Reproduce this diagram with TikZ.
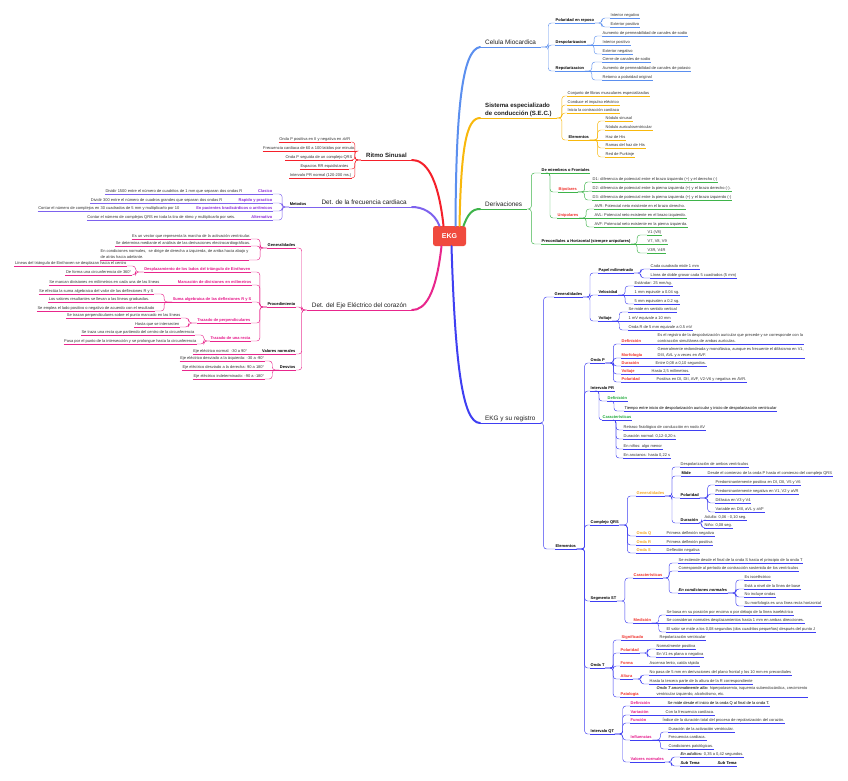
\documentclass[tikz,border=0pt]{standalone}
\usepackage{fontspec}
\setmainfont{Liberation Sans}
\usetikzlibrary{calc}
\definecolor{cBlue}{HTML}{5B8FEF}
\definecolor{cYel}{HTML}{F8B80C}
\definecolor{cGrn}{HTML}{3EB44A}
\definecolor{cRed}{HTML}{F5202A}
\definecolor{cPur}{HTML}{7D62EE}
\definecolor{cPink}{HTML}{E8268C}
\definecolor{cDB}{HTML}{3F3FF2}
\definecolor{ekgred}{HTML}{F04A3E}
\definecolor{txtc}{HTML}{333333}
\definecolor{lRed}{HTML}{F0302A}
\definecolor{lGrn}{HTML}{1FAA3A}
\definecolor{lOra}{HTML}{F5A623}
\definecolor{lPink}{HTML}{E6178A}
\definecolor{lPur}{HTML}{8E2BD8}
\colorlet{brc}{black}
\newcommand{\fsm}{\fontsize{4}{5.6}\selectfont}
\newcommand{\fsmb}{\fontsize{4}{5.6}\selectfont\bfseries}
\newcommand{\ftop}{\fontsize{6.4}{7.8}\selectfont}
\newcommand{\ftopb}{\fontsize{6.1}{7.8}\selectfont\bfseries}
\newcommand{\dstr}{\rule[-0.9pt]{0pt}{1pt}}
\newcommand{\cR}[3]{\draw[conn] (#1.south east) -- ++(#3,0) |- (#2.south west);}
\newcommand{\cL}[3]{\draw[conn] (#1.south west) -- ++(-#3,0) |- (#2.south east);}
\newcommand{\cP}[3]{\draw[conn] (#1) -- ++(#3,0) |- (#2.south west);}
\newcommand{\sR}[2]{\draw[conn] (#1.south east) -- (#2.south west);}
\newcommand{\sL}[2]{\draw[conn] (#1.south west) -- (#2.south east);}
\newcommand{\uR}[2]{\draw[ul] (#1.south west) -- (#2.south east);}
\tikzset{
 ul/.style={draw=brc, line width=0.45pt},
 conn/.style={draw=brc, line width=0.45pt, rounded corners=3pt},
 nb/.style={inner xsep=0.5pt, inner ysep=0.6pt, text depth=0.9pt, font=\fsm, text=txtc},
 R/.style={nb, anchor=south west, append after command={(\tikzlastnode.south west) edge[ul] (\tikzlastnode.south east)}},
 Lf/.style={nb, anchor=south east, append after command={(\tikzlastnode.south west) edge[ul] (\tikzlastnode.south east)}},
 Rn/.style={nb, anchor=south west},
 Ln/.style={nb, anchor=south east},
 B/.style={font=\fsmb, text=black},
 ml/.style={align=left, text depth=},
 TR/.style={inner xsep=5pt, inner ysep=1.2pt, text depth=1.6pt, font=\ftop, text=black!88, anchor=south west, append after command={(\tikzlastnode.south west) edge[draw=brc, line width=1pt] (\tikzlastnode.south east)}},
 TL/.style={inner xsep=5pt, inner ysep=1.2pt, text depth=1.6pt, font=\ftop, text=black!88, anchor=south east, append after command={(\tikzlastnode.south west) edge[draw=brc, line width=1pt] (\tikzlastnode.south east)}},
 main/.style={line width=2pt, line cap=round}
}
\begin{document}
\begin{tikzpicture}[x=1pt,y=-1pt]
\useasboundingbox (0,0) rectangle (848,780);
\fill[white] (0,0) rectangle (848,780);

\node[fill=ekgred, rounded corners=2.5pt, text=white, font=\fontsize{7}{8}\selectfont\bfseries, minimum width=33pt, minimum height=20pt, inner sep=0pt] (ekg) at (449.5,236) {EKG};

% ===== Celula Miocardica
\begin{scope}
\colorlet{brc}{cBlue}
\node[TR] (cel) at (480,47) {Celula Miocardica};
\node[R,B] (cel1) at (555,23) {Polaridad en reposo};
\node[R,B] (cel2) at (555,45) {Despolarizacion};
\node[R,B] (cel3) at (555,71) {Repolarizacion};
\cR{cel}{cel1}{7}\cR{cel}{cel2}{7}\cR{cel}{cel3}{7}
\node[R] (cel11) at (610,18) {Interior negativo};
\node[R] (cel12) at (610,27) {Exterior positivo};
\cR{cel1}{cel11}{7}\cR{cel1}{cel12}{7}
\node[R] (cel21) at (602,36) {Aumento de permeabilidad de canales de sodio};
\node[R] (cel22) at (602,45) {Interior positivo};
\node[R] (cel23) at (602,54) {Exterior negativo};
\cR{cel2}{cel21}{7}\sR{cel2}{cel22}\cR{cel2}{cel23}{7}
\node[R] (cel31) at (602,62) {Cierre de canales de sodio};
\node[R] (cel32) at (602,71) {Aumento de permeabilidad de canales de potasio};
\node[R] (cel33) at (602,80) {Retorno a polaridad original};
\cR{cel3}{cel31}{7}\sR{cel3}{cel32}\cR{cel3}{cel33}{7}
\draw[main,brc] ([xshift=6pt]ekg.north) .. controls (456,110) and (462,50) .. (cel.south west);
\end{scope}

% ===== SEC
\begin{scope}
\colorlet{brc}{cYel}
\node[TR, font=\ftopb, align=left, text depth=] (sec) at (480,118) {Sistema especializado\\de conducción (S.E.C.)\dstr};
\node[R] (sec1) at (567,96) {Conjunto de fibras musculares especializadas};
\node[R] (sec2) at (567,105) {Conduce el impulso eléctrico};
\node[R] (sec3) at (567,113) {Inicia la contracción cardiaca};
\node[R,B] (sec4) at (568,140) {Elementos};
\cR{sec}{sec1}{5}\cR{sec}{sec2}{5}\cR{sec}{sec3}{5}\cR{sec}{sec4}{5}
\node[R] (sec41) at (605,121) {Nódulo sinusal};
\node[R] (sec42) at (605,130) {Nódulo auriculoventricular};
\node[R] (sec43) at (605,140) {Haz de His};
\node[R] (sec44) at (605,148) {Ramas del haz de His};
\node[R] (sec45) at (605,157) {Red de Purkinje};
\cR{sec4}{sec41}{8}\cR{sec4}{sec42}{8}\sR{sec4}{sec43}\cR{sec4}{sec44}{8}\cR{sec4}{sec45}{8}
\draw[main,brc] ([xshift=10pt]ekg.north) .. controls (461,150) and (466,118) .. (sec.south west);
\end{scope}

% ===== Derivaciones
\begin{scope}
\colorlet{brc}{cGrn}
\node[TR] (der) at (480,209) {Derivaciones};
\node[R,B] (der1) at (541,173) {De miembros o Frontales};
\node[R,B] (der2) at (541,244) {Precordiales u Horizontal (siempre unipolares)};
\cR{der}{der1}{4}\cR{der}{der2}{4}
\node[R,font=\fsmb,text=lRed] (der11) at (558,192) {Bipolares};
\node[R,font=\fsmb,text=lRed] (der12) at (557,218) {Unipolares};
\cP{548,173}{der11}{2}\cP{548,173}{der12}{2}
\node[R] (der111) at (592,182) {D1: diferencia de potencial entre el brazo izquierdo (+) y el derecho (-)};
\node[R] (der112) at (592,191) {D2: diferencia de potencial entre la pierna izquierda (+) y el brazo derecho (-).};
\node[R] (der113) at (592,200) {D3: diferencia de potencial entre la pierna izquierda (+) y el brazo izquierdo (-)};
\cR{der11}{der111}{7}\sR{der11}{der112}\cR{der11}{der113}{7}
\node[R] (der121) at (594,209) {AVR: Potencial neto existente en el brazo derecho.};
\node[R] (der122) at (594,218) {AVL: Potencial neto existente en el brazo izquierdo.};
\node[R] (der123) at (594,227) {AVF: Potencial neto existente en la pierna izquierda.};
\cR{der12}{der121}{7}\sR{der12}{der122}\cR{der12}{der123}{7}
\node[R] (der21) at (647,235) {V1 (V8)};
\node[R] (der22) at (647,244) {V7, V8, V9};
\node[R] (der23) at (647,253) {V3R, V4R};
\cR{der2}{der21}{6}\sR{der2}{der22}\cR{der2}{der23}{6}
\draw[main,brc] ([xshift=14pt]ekg.north) .. controls (468,214) and (472,209) .. (der.south west);
\end{scope}

% ===== Ritmo Sinusal
\begin{scope}
\colorlet{brc}{cRed}
\node[TL, font=\ftopb] (rs) at (412,160) {Ritmo Sinusal};
\node[Lf] (rs1) at (351,142) {Onda P positiva en II y negativa en aVR};
\node[Lf] (rs2) at (356,151) {Frecuencia cardiaca de 60 a 100 latidos por minuto.};
\node[Lf] (rs3) at (353,160) {Onda P seguida de un complejo QRS};
\node[Lf] (rs4) at (349,169) {Espacios RR equidistantes};
\node[Lf] (rs5) at (352,178) {Intervalo PR normal (120-200 ms.)};
\cL{rs}{rs1}{6}\cL{rs}{rs2}{6}\cL{rs}{rs3}{6}\cL{rs}{rs4}{6}\cL{rs}{rs5}{6}
\draw[main,brc] ([xshift=-6pt]ekg.north) .. controls (438,175) and (425,160) .. (rs.south east);
\end{scope}

% ===== Frecuencia
\begin{scope}
\colorlet{brc}{cPur}
\node[TL] (fc) at (412,207) {Det. de la frecuencia cardiaca};
\node[Lf,B] (fm) at (307,207) {Metodos};
\sL{fc}{fm}
\node[Ln,font=\fsmb,text=lPur] (fc1) at (273,194) {Clasico};
\node[Ln] (fc1d) at (243,194) {Dividir 1500 entre el número de cuadritos de 1 mm que separan dos ondas R};
\node[Ln,font=\fsmb,text=lPur] (fc2) at (273,203) {Rapido y practico};
\node[Ln] (fc2d) at (223,203) {Dividir 300 entre el número de cuadros grandes que separan dos ondas R};
\node[Ln,font=\fsmb,text=lPur] (fc3) at (273,211) {En pacientes bradicárdicos o arrítmicos};
\node[Ln] (fc3d) at (180,211) {Contar el número de complejos en 30 cuadrados de 5 mm y multiplicarlo por 10};
\node[Ln,font=\fsmb,text=lPur] (fc4) at (273,220) {Alternativo};
\node[Ln] (fc4d) at (236,220) {Contar el número de complejos QRS en toda la tira de ritmo y multiplicarlo por seis.};
\uR{fc1d}{fc1}\uR{fc2d}{fc2}\uR{fc3d}{fc3}\uR{fc4d}{fc4}
\cL{fm}{fc1}{7}\cL{fm}{fc2}{7}\cL{fm}{fc3}{7}\cL{fm}{fc4}{7}
\draw[main,brc] ([xshift=-10pt]ekg.north) .. controls (434,212) and (422,207) .. (fc.south east);
\end{scope}

% ===== Eje
\begin{scope}
\colorlet{brc}{cPink}
\node[TL] (eje) at (412,310) {Det. del Eje Eléctrico del corazón};
\node[Lf,B] (ej1) at (296,248) {Generalidades};
\node[Lf,B] (ej2) at (296,307) {Procedimiento};
\node[Ln,B] (ej3) at (296,354) {Valores normales};
\node[Ln] (ej3d) at (248,354) {Eje eléctrico normal: -30 a 90°};
\uR{ej3d}{ej3}
\node[Lf,B] (ej4) at (296,370) {Desvios};
\cL{eje}{ej1}{5}\cL{eje}{ej2}{5}\cL{eje}{ej3}{5}\cL{eje}{ej4}{5}
\node[Lf] (ej11) at (251,239) {Es un vector que representa la marcha de la activación ventricular.};
\node[Lf] (ej12) at (251,246) {Se determina mediante el análisis de las derivaciones electrocardiográficas.};
\node[Lf,ml] (ej13) at (249,260) {En condiciones normales,\ \ se dirige de derecha a izquierda, de arriba hacia abajo y\\de atrás hacia adelante.\dstr};
\cL{ej1}{ej11}{7}\cL{ej1}{ej12}{7}\cL{ej1}{ej13}{7}
\node[Lf,font=\fsmb,text=lPink] (ej21) at (251,272) {Desplazamiento de los lados del triángulo de Einthoven};
\node[Ln,font=\fsmb,text=lPink] (ej22) at (252,285) {Marcación de divisiones en milímetros};
\node[Ln] (ej22d) at (160,285) {Se marcan divisiones en milímetros en cada una de las líneas};
\uR{ej22d}{ej22}
\node[Lf,font=\fsmb,text=lPink] (ej23) at (252,302) {Suma algebraica de las deflexiones R y S};
\node[Lf,font=\fsmb,text=lPink] (ej24) at (251,323) {Trazado de perpendiculares};
\node[Lf,font=\fsmb,text=lPink] (ej25) at (251,341) {Trazado de una recta};
\cL{ej2}{ej21}{7}\cL{ej2}{ej22}{7}\cL{ej2}{ej23}{7}\cL{ej2}{ej24}{7}\cL{ej2}{ej25}{7}
\node[Lf] (ej211) at (127,266) {Líneas del triángulo de Einthoven se desplazan hacia el centro};
\node[Lf] (ej212) at (132,275) {De forma una circunferencia de 360°};
\cL{ej21}{ej211}{8}\cL{ej21}{ej212}{8}
\node[Lf] (ej231) at (154,294) {Se efectúa la suma algebraica del valor de las deflexiones R y S};
\node[Lf] (ej232) at (150,302) {Los valores resultantes se llevan a las líneas graduadas.};
\node[Lf] (ej233) at (155,311) {Se emplea el lado positivo o negativo de acuerdo con el resultado};
\cL{ej23}{ej231}{8}\sL{ej23}{ej232}\cL{ej23}{ej233}{8}
\node[Lf] (ej241) at (181,318) {Se trazan perpendiculares sobre el punto marcado en las líneas};
\node[Lf] (ej242) at (180,327) {Hasta que se intersecten};
\cL{ej24}{ej241}{8}\cL{ej24}{ej242}{8}
\node[Lf] (ej251) at (195,335) {Se traza una recta que partiendo del centro de la circunferencia};
\node[Lf] (ej252) at (197,344) {Pasa por el punto de la intersección y se prolongue hasta la circunferencia};
\cL{ej25}{ej251}{6}\cL{ej25}{ej252}{6}
\node[Lf] (ej41) at (265,361) {Eje eléctrico desviado a la izquierda: -30 a -90°};
\node[Lf] (ej42) at (265,370) {Eje eléctrico desviado a la derecha: 90 a 180°};
\node[Lf] (ej43) at (265,379) {Eje eléctrico indeterminado: -90 a -180°};
\cL{ej4}{ej41}{7}\sL{ej4}{ej42}\cL{ej4}{ej43}{7}
\draw[main,brc] ([xshift=-8pt]ekg.south) .. controls (436,295) and (425,310) .. (eje.south east);
\end{scope}

% ===== EKG y su registro
\begin{scope}
\colorlet{brc}{cDB}
\node[TR] (reg) at (480,423) {EKG y su registro};
\node[R,B] (g) at (554,297) {Generalidades};
\node[R,B] (el) at (555,549) {Elementos};
\cR{reg}{g}{3}\cR{reg}{el}{3}
\node[R,B] (g1) at (598,273) {Papel milimetrado};
\node[R,B] (g2) at (598,295) {Velocidad};
\node[R,B] (g3) at (598,321) {Voltaje};
\cR{g}{g1}{7}\cR{g}{g2}{7}\cR{g}{g3}{7}
\node[R] (g11) at (650,269) {Cada cuadrado mide 1 mm};
\node[R] (g12) at (650,278) {Línea de doble grosor cada 5 cuadrados (5 mm)};
\cR{g1}{g11}{7}\cR{g1}{g12}{7}
\node[R] (g21) at (634,286) {Estándar: 25 mm/sg.};
\node[R] (g22) at (634,295) {1 mm equivale a 0.04 sg.};
\node[R] (g23) at (634,304) {5 mm equivalen a 0.2 sg.};
\cR{g2}{g21}{7}\sR{g2}{g22}\cR{g2}{g23}{7}
\node[R] (g31) at (628,312) {Se mide en sentido vertical};
\node[R] (g32) at (628,321) {1 mV equivale a 10 mm};
\node[R] (g33) at (628,330) {Onda R de 5 mm equivale a 0.5 mV};
\cR{g3}{g31}{7}\sR{g3}{g32}\cR{g3}{g33}{7}
% Elementos
\node[R,B] (op) at (590,363) {Onda P};
\node[R,B] (pr) at (590,391) {Intervalo PR};
\node[R,B] (qrs) at (590,525) {Complejo QRS};
\node[R,B] (st) at (590,601) {Segmento ST};
\node[R,B] (ot) at (590,668) {Onda T};
\node[R,B] (qt) at (590,734) {Intervalo QT};
\cR{el}{op}{8}\cR{el}{pr}{8}\cR{el}{qrs}{8}\cR{el}{st}{8}\cR{el}{ot}{8}\cR{el}{qt}{8}
% Onda P
\node[Rn,font=\fsmb,text=lRed] (opd) at (621,344) {Definición};
\node[Rn,ml] (opdd) at (657,344) {Es el registro de la despolarización auricular que precede y se corresponde con la\\contracción simultánea de ambas aurículas.\dstr};
\node[Rn,font=\fsmb,text=lRed] (opm) at (621,358) {Morfología};
\node[Rn,ml] (opmd) at (657,358) {Generalmente redondeada y monofásica, aunque es frecuente el difásismo en V1,\\DIII, AVL y a veces en AVF.\dstr};
\node[Rn,font=\fsmb,text=lRed] (opu) at (621,366) {Duración};
\node[Rn] (opud) at (655,366) {Entre 0,08 a 0,10 segundos.};
\node[Rn,font=\fsmb,text=lRed] (opv) at (621,374) {Voltaje};
\node[Rn] (opvd) at (651,374) {Hasta 2,5 milímetros.};
\node[Rn,font=\fsmb,text=lRed] (opp) at (621,382) {Polaridad};
\node[Rn] (oppd) at (656,382) {Positiva en DI, DII, AVF, V2-V6 y negativa en AVR.};
\uR{opd}{opdd}\uR{opm}{opmd}\uR{opu}{opud}\uR{opv}{opvd}\uR{opp}{oppd}
\cR{op}{opd}{8}\cR{op}{opm}{8}\cR{op}{opu}{8}\cR{op}{opv}{8}\cR{op}{opp}{8}
% Intervalo PR
\node[R,font=\fsmb,text=lGrn] (prd) at (607,401) {Definición};
\node[R,font=\fsmb,text=lGrn] (prc) at (602,420) {Características};
\cP{597,391}{prd}{2}\cP{597,391}{prc}{2}
\node[R,text=black] (prd1) at (624,411) {Tiempo entre inicio de despolarización auricular y inicio de despolarización ventricular};
\cP{612,401}{prd1}{2}
\node[R] (prc1) at (623,430) {Retraso fisiológico de conducción en nodo AV};
\node[R] (prc2) at (623,439) {Duración normal: 0,12-0,20 s};
\node[R] (prc3) at (623,449) {En niños: algo menor};
\node[R] (prc4) at (623,458) {En ancianos: hasta 0,22 s};
\cP{613,420}{prc1}{3}\cP{613,420}{prc2}{3}\cP{613,420}{prc3}{3}\cP{613,420}{prc4}{3}
% Complejo QRS
\node[R,font=\fsmb,text=lOra] (qg) at (636,496) {Generalidades};
\node[Rn,font=\fsmb,text=lOra] (qq) at (636,536) {Onda Q};
\node[Rn] (qqd) at (666,536) {Primera deflexión negativa};
\node[Rn,font=\fsmb,text=lOra] (qr) at (636,545) {Onda R};
\node[Rn] (qrd) at (666,545) {Primera deflexión positiva};
\node[Rn,font=\fsmb,text=lOra] (qs) at (636,553) {Onda S};
\node[Rn] (qsd) at (666,553) {Deflexión negativa};
\uR{qq}{qqd}\uR{qr}{qrd}\uR{qs}{qsd}
\cR{qrs}{qg}{8}\cR{qrs}{qq}{8}\cR{qrs}{qr}{8}\cR{qrs}{qs}{8}
\node[R] (qg1) at (680,467) {Despolarización de ambos ventrículos};
\node[Rn,B] (qg2) at (681,476) {Mide};
\node[Rn] (qg2d) at (707,476) {Desde el comienzo de la onda P hasta el comienzo del complejo QRS};
\uR{qg2}{qg2d}
\node[R,B] (qg3) at (680,498) {Polaridad};
\node[R,B] (qg4) at (680,523) {Duración};
\cR{qg}{qg1}{7}\cR{qg}{qg2}{7}\cR{qg}{qg3}{7}\cR{qg}{qg4}{7}
\node[R] (qp1) at (715,485) {Predominantemente positiva en DI, DII, V5 y V6};
\node[R] (qp2) at (715,494) {Predominantemente negativa en V1, V2 y aVR};
\node[R] (qp3) at (715,503) {Difásica en V3 y V4};
\node[R] (qp4) at (715,512) {Variable en DIII, aVL y aVF};
\cR{qg3}{qp1}{8}\cR{qg3}{qp2}{8}\cR{qg3}{qp3}{8}\cR{qg3}{qp4}{8}
\node[R] (qd1) at (704,520) {Adulto: 0,06 - 0,10 seg.};
\node[R] (qd2) at (704,528) {Niño: 0,08 seg.};
\cR{qg4}{qd1}{3}\cR{qg4}{qd2}{3}
% Segmento ST
\node[R,font=\fsmb,text=lRed] (stc) at (633,578) {Características};
\node[R,font=\fsmb,text=lRed] (stm) at (633,623) {Medición};
\cR{st}{stc}{8}\cR{st}{stm}{8}
\node[R] (stc1) at (678,563) {Se extiende desde el final de la onda S hasta el principio de la onda T};
\node[R] (stc2) at (678,571) {Corresponde al período de contracción sostenida de los ventrículos};
\node[R,font=\fsmb\itshape,text=black] (stn) at (678,593) {En condiciones normales};
\cR{stc}{stc1}{6}\cR{stc}{stc2}{6}\cR{stc}{stn}{6}
\node[R] (stn1) at (744,580) {Es isoeléctrico};
\node[R] (stn2) at (744,589) {Está a nivel de la línea de base};
\node[R] (stn3) at (744,597) {No incluye ondas};
\node[R] (stn4) at (744,606) {Su morfología es una línea recta horizontal};
\cR{stn}{stn1}{8}\cR{stn}{stn2}{8}\cR{stn}{stn3}{8}\cR{stn}{stn4}{8}
\node[R] (stm1) at (666,615) {Se basa en su posición por encima o por debajo de la línea isoeléctrica};
\node[R] (stm2) at (666,623) {Se consideran normales desplazamientos hasta 1 mm en ambas direcciones.};
\node[R] (stm3) at (666,632) {El valor se mide a los 0,08 segundos (dos cuadritos pequeños) después del punto J};
\cR{stm}{stm1}{7}\sR{stm}{stm2}\cR{stm}{stm3}{7}
% Onda T
\node[Rn,font=\fsmb,text=lRed] (ots) at (621,640) {Significado};
\node[Rn] (otsd) at (659,640) {Repolarización ventricular};
\node[R,font=\fsmb,text=lRed] (otp) at (620,653) {Polaridad};
\node[Rn,font=\fsmb,text=lRed] (otf) at (620,666) {Forma};
\node[Rn] (otfd) at (649,666) {Ascenso lento, caída rápida};
\node[R,font=\fsmb,text=lRed] (ota) at (620,679) {Altura};
\node[Rn,font=\fsmb,text=lRed] (otq) at (620,697) {Patologia};
\node[Rn,ml] (otqd) at (656,697) {\textbf{\textit{Onda T anormalmente alta:}} hiperpotasemia, isquemia subendocárdica, crecimiento\\ventricular izquierdo, alcoholismo, etc.\dstr};
\uR{ots}{otsd}\uR{otf}{otfd}\uR{otq}{otqd}
\cR{ot}{ots}{8}\cR{ot}{otp}{8}\cR{ot}{otf}{8}\cR{ot}{ota}{8}\cR{ot}{otq}{8}
\node[R] (otp1) at (656,649) {Normalmente positiva};
\node[R] (otp2) at (656,657) {En V1 es plana o negativa};
\cR{otp}{otp1}{8}\cR{otp}{otp2}{8}
\node[R] (ota1) at (649,675) {No pasa de 5 mm en derivaciones del plano frontal y los 10 mm en precordiales};
\node[R] (ota2) at (649,684) {Hasta la tercera parte de la altura de la R correspondiente};
\cR{ota}{ota1}{8}\cR{ota}{ota2}{8}
% Intervalo QT
\node[Rn,font=\fsmb,text=lPink] (qtd) at (630,706) {Definición};
\node[Rn,text=black] (qtdd) at (667,706) {Se mide desde el inicio de la onda Q al final de la onda T.};
\node[Rn,font=\fsmb,text=lPink] (qtv) at (630,715) {Variación};
\node[Rn] (qtvd) at (665,715) {Con la frecuencia cardiaca.};
\node[Rn,font=\fsmb,text=lPink] (qtf) at (630,723) {Función};
\node[Rn] (qtfd) at (662,723) {Índice de la duración total del proceso de repolarización del corazón.};
\uR{qtd}{qtdd}\uR{qtv}{qtvd}\uR{qtf}{qtfd}
\node[R,font=\fsmb,text=lPink] (qti) at (630,740) {Influencias};
\node[R,font=\fsmb,text=lPink] (qtn) at (630,762) {Valores normales};
\cR{qt}{qtd}{8}\cR{qt}{qtv}{8}\cR{qt}{qtf}{8}\cR{qt}{qti}{8}\cR{qt}{qtn}{8}
\node[R] (qti1) at (668,732) {Duración de la activación ventricular.};
\node[R] (qti2) at (668,740) {Frecuencia cardiaca.};
\node[R] (qti3) at (668,749) {Condiciones patológicas.};
\cR{qti}{qti1}{8}\sR{qti}{qti2}\cR{qti}{qti3}{8}
\node[R] (qtn1) at (680,757) {\textbf{\textit{En adultos:}} 0,35 a 0,42 segundos.};
\node[Rn,font=\fsmb\itshape,text=black] (qtn2) at (680,766) {Sub Tema};
\node[Rn,font=\fsmb\itshape,text=black] (qtn3) at (717,766) {Sub Tema};
\uR{qtn2}{qtn3}
\cR{qtn}{qtn1}{7}\cR{qtn}{qtn2}{7}
\draw[main,brc] ([xshift=2pt]ekg.south) .. controls (455,360) and (462,423) .. (reg.south west);
\end{scope}
\end{tikzpicture}
\end{document}
